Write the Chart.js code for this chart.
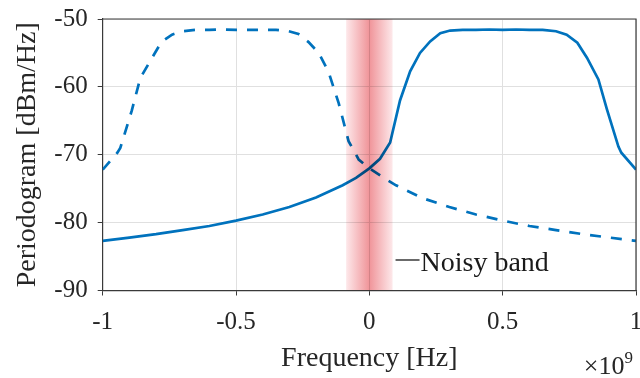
<!DOCTYPE html>
<html>
<head>
<meta charset="utf-8">
<script src="https://cdn.jsdelivr.net/npm/chart.js@4/dist/chart.umd.min.js"></script>
<style>
  html, body { margin: 0; padding: 0; background: #fff; }
  #wrap { width: 640px; height: 378px; position: relative; }
</style>
</head>
<body>
<div id="wrap"><canvas id="c" width="640" height="378"></canvas></div>
<script>
// ---- Data (frequency in units of 1e9 Hz, periodogram in dBm/Hz) ----
const solidFreq = [-1, -0.9, -0.8, -0.7, -0.6, -0.5, -0.4, -0.3, -0.2, -0.1, -0.05, 0, 0.04, 0.078, 0.115, 0.153, 0.19, 0.228, 0.266, 0.303, 0.35, 0.4, 0.45, 0.5, 0.55, 0.6, 0.65, 0.7, 0.74, 0.78, 0.816, 0.859, 0.891, 0.934, 0.945, 1];
const solidPower = [-82.7, -82.2, -81.7, -81.1, -80.5, -79.7, -78.8, -77.7, -76.3, -74.5, -73.4, -72.0, -70.6, -68.2, -62.0, -57.7, -55.0, -53.3, -52.1, -51.7, -51.6, -51.6, -51.55, -51.6, -51.55, -51.6, -51.6, -51.8, -52.3, -53.5, -55.7, -58.9, -63.3, -68.8, -69.7, -72.2];

const dashedFreq = [-1, -0.945, -0.934, -0.891, -0.859, -0.816, -0.78, -0.74, -0.7, -0.65, -0.6, -0.55, -0.5, -0.45, -0.4, -0.35, -0.303, -0.266, -0.228, -0.19, -0.153, -0.115, -0.078, -0.04, 0, 0.05, 0.1, 0.2, 0.3, 0.4, 0.5, 0.6, 0.7, 0.8, 0.9, 1];
const dashedPower = [-72.2, -69.7, -69.0, -63.5, -58.7, -55.8, -53.4, -52.3, -51.8, -51.6, -51.6, -51.55, -51.6, -51.6, -51.6, -51.6, -51.8, -52.2, -53.4, -55.0, -57.8, -62.4, -68.0, -70.7, -72.0, -73.3, -74.5, -76.4, -77.7, -78.8, -79.7, -80.5, -81.1, -81.7, -82.2, -82.7];

const noisyBand = [-0.087, 0.087];
const noisyBandLabel = 'Noisy band';

const xTicks = [-1, -0.5, 0, 0.5, 1];
const yTicks = [-90, -80, -70, -60, -50];
const xTickLabels = ['-1', '-0.5', '0', '0.5', '1'];
const yTickLabels = ['-90', '-80', '-70', '-60', '-50'];
const xTitle = 'Frequency [Hz]';
const yTitle = 'Periodogram [dBm/Hz]';
const xExponent = '9';

// ---- Styling ----
const FONT = '"Liberation Serif", "Times New Roman", serif';
const BLUE = '#0072BD';
const AXIS = '#3a3a3a';
const GRID = '#e0e0e0';

const toPoints = (xs, ys) => xs.map((x, i) => ({ x: x, y: ys[i] }));

const bandPlugin = {
  id: 'bandPlugin',
  afterDatasetsDraw(chart) {
    const { ctx, chartArea, scales } = chart;
    const x0 = scales.x.getPixelForValue(noisyBand[0]);
    const x1 = scales.x.getPixelForValue(noisyBand[1]);
    ctx.save();
    ctx.beginPath();
    ctx.rect(chartArea.left, chartArea.top, chartArea.right - chartArea.left, chartArea.bottom - chartArea.top);
    ctx.clip();
    ctx.globalCompositeOperation = 'multiply';
    const g = ctx.createLinearGradient(x0, 0, x1, 0);
    g.addColorStop(0, 'rgb(253,232,234)');
    g.addColorStop(0.5, 'rgb(240,148,153)');
    g.addColorStop(1, 'rgb(253,232,234)');
    ctx.fillStyle = g;
    ctx.fillRect(x0, chartArea.top, x1 - x0, chartArea.bottom - chartArea.top);
    ctx.restore();
  },
  afterDraw(chart) {
    const { ctx, chartArea, scales } = chart;
    ctx.save();
    // box (top and right edges)
    ctx.strokeStyle = AXIS;
    ctx.lineWidth = 1.2;
    ctx.beginPath();
    ctx.moveTo(chartArea.left, chartArea.top);
    ctx.lineTo(chartArea.right, chartArea.top);
    ctx.lineTo(chartArea.right, chartArea.bottom);
    ctx.stroke();
    // legend
    const lx = scales.x.getPixelForValue(noisyBand[1]) + 3;
    const ly = scales.y.getPixelForValue(-87.2);
    ctx.strokeStyle = '#1a1a1a';
    ctx.lineWidth = 1.3;
    ctx.beginPath();
    ctx.moveTo(lx, ly - 11.5);
    ctx.lineTo(lx + 24, ly - 11.5);
    ctx.stroke();
    ctx.fillStyle = '#1a1a1a';
    ctx.font = '28px ' + FONT;
    ctx.textBaseline = 'alphabetic';
    ctx.textAlign = 'left';
    ctx.fillText(noisyBandLabel, lx + 25, ly);
    // exponent label
    ctx.fillStyle = '#262626';
    ctx.textAlign = 'right';
    ctx.font = '17px ' + FONT;
    const ex = chartArea.right - 3;
    const ey = chart.height - 4;
    ctx.fillText(xExponent, ex, ey - 11);
    const ew = ctx.measureText(xExponent).width;
    ctx.font = '26px ' + FONT;
    ctx.fillText('\u00D710', ex - ew, ey);
    ctx.restore();
  }
};

new Chart(document.getElementById('c'), {
  type: 'line',
  data: {
    datasets: [
      {
        data: toPoints(solidFreq, solidPower),
        borderColor: BLUE,
        borderWidth: 2.7,
        pointRadius: 0,
        tension: 0,
        fill: false
      },
      {
        data: toPoints(dashedFreq, dashedPower),
        borderColor: BLUE,
        borderWidth: 2.7,
        borderDash: [11, 10],
        pointRadius: 0,
        tension: 0,
        fill: false
      }
    ]
  },
  options: {
    responsive: false,
    animation: false,
    devicePixelRatio: 1,
    layout: { padding: { left: 0, right: 4, top: 19, bottom: 0 } },
    plugins: { legend: { display: false }, tooltip: { enabled: false } },
    scales: {
      x: {
        type: 'linear',
        min: -1, max: 1,
        afterBuildTicks: (s) => { s.ticks = xTicks.map(v => ({ value: v })); },
        afterFit: (s) => { s.height = 87.5; s.paddingLeft = 0; s.paddingRight = 0; },
        ticks: {
          callback: (v) => xTickLabels[xTicks.indexOf(v)],
          font: { family: FONT, size: 25 },
          color: '#262626',
          padding: 12,
          maxRotation: 0
        },
        grid: { color: GRID, tickColor: AXIS, tickLength: 5, lineWidth: 1 },
        border: { color: AXIS, width: 1.2 },
        title: {
          display: true,
          text: xTitle,
          font: { family: FONT, size: 28 },
          color: '#262626',
          padding: { top: 0, bottom: 3 }
        }
      },
      y: {
        type: 'linear',
        min: -90, max: -50,
        afterBuildTicks: (s) => { s.ticks = yTicks.map(v => ({ value: v })); },
        afterFit: (s) => { s.width = 102.7; s.paddingTop = 0; s.paddingBottom = 0; },
        ticks: {
          callback: (v) => yTickLabels[yTicks.indexOf(v)],
          font: { family: FONT, size: 25 },
          color: '#262626',
          padding: 10
        },
        grid: { color: GRID, tickColor: AXIS, tickLength: 5, lineWidth: 1 },
        border: { color: AXIS, width: 1.2 },
        title: {
          display: true,
          text: yTitle,
          font: { family: FONT, size: 28 },
          color: '#262626',
          padding: { top: 11, bottom: 0 }
        }
      }
    }
  },
  plugins: [bandPlugin]
});
</script>
</body>
</html>
